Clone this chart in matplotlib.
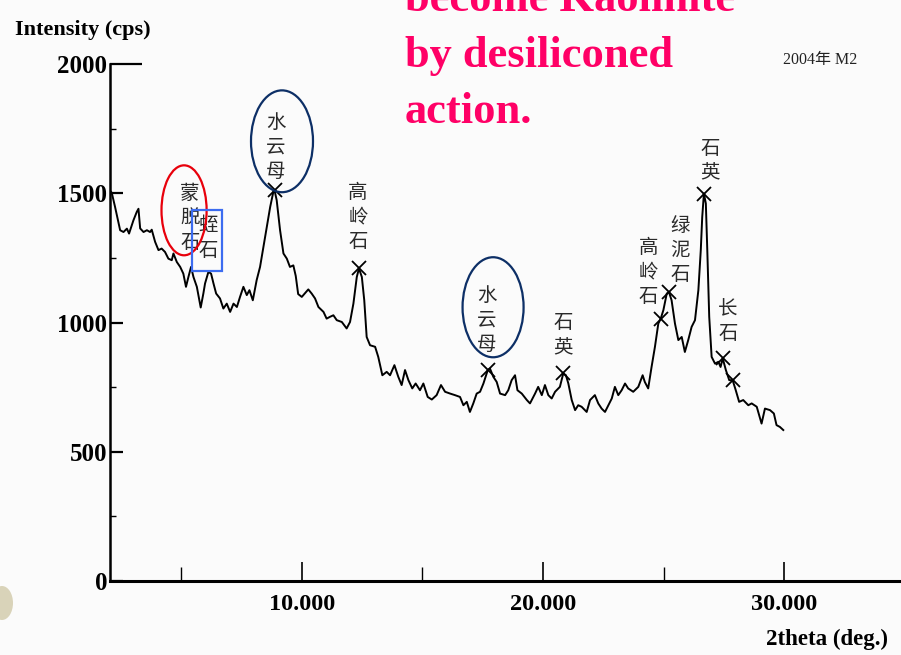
import matplotlib
matplotlib.use("Agg")
import matplotlib.pyplot as plt
from matplotlib.patches import Ellipse, Rectangle
from matplotlib.ticker import MultipleLocator

plt.rcParams["font.family"] = ["Liberation Serif", "Noto Sans CJK SC", "DejaVu Sans"]

# XRD scan, sample M2 (2004)
two_theta = [
    2.10, 2.13, 2.26, 2.47, 2.61, 2.75, 2.84, 3.02, 3.16, 3.23, 3.30, 3.44, 3.58,
    3.71, 3.78, 3.92, 4.06, 4.19, 4.33, 4.47, 4.61, 4.68, 4.82, 4.96, 5.09, 5.20,
    5.30, 5.41, 5.51, 5.65, 5.81, 5.92, 5.99, 6.13, 6.24, 6.34, 6.45, 6.61, 6.75,
    6.89, 7.03, 7.17, 7.31, 7.44, 7.58, 7.72, 7.83, 7.97, 8.13, 8.27, 8.41, 8.55,
    8.69, 8.82, 8.87, 8.96, 9.10, 9.24, 9.38, 9.51, 9.65, 9.75, 9.85, 10.00,
    10.27, 10.41, 10.55, 10.69, 10.90, 11.03, 11.17, 11.31, 11.45, 11.66, 11.86,
    12.00, 12.14, 12.28, 12.37, 12.49, 12.59, 12.69, 12.83, 13.04, 13.17, 13.34,
    13.52, 13.66, 13.84, 14.00, 14.14, 14.28, 14.42, 14.58, 14.72, 14.90, 15.04,
    15.22, 15.39, 15.59, 15.77, 15.94, 16.15, 16.35, 16.56, 16.70, 16.84, 16.97,
    17.11, 17.25, 17.39, 17.53, 17.71, 17.80, 17.94, 18.08, 18.22, 18.43, 18.56,
    18.70, 18.84, 18.94, 19.12, 19.33, 19.46, 19.67, 19.80, 19.95, 20.08, 20.22,
    20.36, 20.50, 20.70, 20.84, 20.95, 21.05, 21.19, 21.33, 21.46, 21.60, 21.81,
    21.95, 22.15, 22.29, 22.43, 22.57, 22.71, 22.85, 22.98, 23.12, 23.26, 23.40,
    23.53, 23.74, 23.95, 24.13, 24.22, 24.36, 24.50, 24.64, 24.78, 24.88, 24.99,
    25.13, 25.22, 25.33, 25.47, 25.61, 25.75, 25.88, 26.02, 26.16, 26.30, 26.44,
    26.54, 26.60, 26.67, 26.75, 26.81, 26.89, 26.99, 27.13, 27.27, 27.36, 27.45,
    27.58, 27.72, 27.86, 27.99, 28.13, 28.30, 28.51, 28.65, 28.86, 29.06, 29.20,
    29.41, 29.57, 29.68, 29.82, 29.96,
]
intensity = [
    1505, 1499, 1447, 1357, 1350, 1363, 1344, 1395, 1428, 1440, 1364, 1350, 1357,
    1350, 1359, 1312, 1280, 1286, 1273, 1247, 1241, 1267, 1234, 1215, 1189, 1138,
    1176, 1215, 1176, 1138, 1058, 1112, 1151, 1196, 1189, 1151, 1112, 1093, 1054,
    1073, 1041, 1073, 1060, 1099, 1138, 1106, 1125, 1086, 1164, 1215, 1292, 1370,
    1447, 1505, 1512, 1473, 1357, 1267, 1247, 1215, 1221, 1180, 1110, 1099,
    1128, 1112, 1093, 1060, 1041, 1015, 1022, 1028, 1009, 1002, 977,
    1002, 1073, 1176, 1209, 1176, 1086, 944, 912, 906, 867, 796,
    809, 796, 835, 790, 758, 816, 777, 745, 764, 738, 764,
    712, 702, 719, 758, 732, 725, 719, 712, 680, 693, 654,
    687, 725, 732, 764, 816, 822, 790, 770, 725, 719, 738,
    777, 796, 738, 725, 700, 687, 725, 751, 719, 758, 719,
    706, 732, 751, 803, 796, 764, 700, 661, 680, 674, 654,
    700, 719, 687, 667, 654, 680, 706, 751, 719, 738, 764,
    745, 732, 751, 796, 770, 745, 828, 906, 996, 1015, 1048,
    1112, 1118, 1086, 996, 932, 944, 886, 932, 983, 1009, 1125,
    1280, 1408, 1499, 1460, 1280, 1022, 867, 841, 848, 828, 861,
    816, 777, 777, 738, 693, 700, 680, 687, 674, 609, 667,
    661, 648, 603, 596, 584,
]

# identified reflections (x marks)
peak_theta = [8.87, 12.37, 17.71, 20.84, 24.88, 25.22, 26.67, 27.45, 27.86]
peak_int = [1512, 1209, 816, 803, 1015, 1118, 1499, 861, 777]

# mineral names, written top to bottom
mineral_labels = ["蒙脱石", "蛭石", "水云母", "高岭石", "水云母", "石英",
                  "高岭石", "绿泥石", "石英", "长石"]
label_theta = [5.37, 6.12, 8.93, 12.33, 17.68, 20.83, 24.37, 25.68, 26.92, 27.67]
label_int = [1403, 1326, 1678, 1407, 1009, 951, 1194, 1279, 1627, 1005]

W, H = 901, 655
fig = plt.figure(figsize=(W / 100, H / 100), dpi=100)
fig.patch.set_facecolor("#fbfbfb")

ax = fig.add_axes([110 / W, 74 / H, 791 / W, 517 / H])
ax.set_facecolor("#fbfbfb")
ax.plot(two_theta, intensity, color="black", lw=1.4, zorder=3)
ax.plot(peak_theta, peak_int, "x", color="black", ms=10, mew=1.3, zorder=4)

for txt, tx, ty in zip(mineral_labels, label_theta, label_int):
    ax.text(tx, ty, "\n".join(txt), ha="center", va="center", fontsize=14,
            linespacing=1.22, color="#2a2a2a", family=["Noto Sans CJK SC"], zorder=5)

# highlight rings
ax.add_patch(Ellipse((5.12, 1434), 1.87, 348, fill=False, ec="#e8000b", lw=1.6, zorder=6))
ax.add_patch(Rectangle((5.45, 1198), 1.25, 236, fill=False, ec="#3c6cf0", lw=1.6, zorder=6))
ax.add_patch(Ellipse((9.18, 1701), 2.57, 394, fill=False, ec="#0d2f66", lw=1.6, zorder=6))
ax.add_patch(Ellipse((17.93, 1059), 2.53, 387, fill=False, ec="#0d2f66", lw=1.6, zorder=6))

ax.set_xlim(2.05, 34.84)
ax.set_ylim(0, 2000)
for s in ("top", "right"):
    ax.spines[s].set_visible(False)
ax.spines["left"].set_linewidth(1.8)
ax.spines["bottom"].set_linewidth(2.2)

ax.set_yticks([0, 500, 1000, 1500, 2000])
ax.yaxis.set_minor_locator(MultipleLocator(250))
ax.set_xticks([10, 20, 30])
ax.set_xticklabels(["10.000", "20.000", "30.000"])
ax.xaxis.set_minor_locator(MultipleLocator(5))
ax.tick_params(axis="y", which="major", direction="in", length=9, width=1.6, pad=2,
               labelsize=18)
ax.tick_params(axis="y", which="minor", direction="in", length=4, width=1.0)
ax.tick_params(axis="x", which="major", direction="in", length=14, width=1.2, pad=9,
               labelsize=17.5)
ax.tick_params(axis="x", which="minor", direction="in", length=10, width=1.0)
for lab in ax.get_xticklabels() + ax.get_yticklabels():
    lab.set_fontweight("bold")
# the top tick runs further into the plot
ax.yaxis.get_major_ticks()[-1].tick1line.set_markersize(23)

fig.text(15 / W, 1 - 35 / H, "Intensity (cps)", fontsize=16, fontweight="bold",
         va="baseline")
fig.text(888 / W, 1 - 645 / H, "2theta (deg.)", fontsize=16.5, fontweight="bold",
         ha="right", va="baseline")
fig.text(783 / W, 1 - 60 / H, "2004年 M2", fontsize=11.5, va="center", color="#222222")

pink = "#ff0066"
for line, py in zip(["become Kaolinite", "by desiliconed", "action."], [11, 67, 123]):
    fig.text(405 / W, 1 - py / H, line, fontsize=32, fontweight="bold", color=pink,
             va="baseline")

# corner smudge
fig.patches.append(Ellipse((2 / W, 1 - 603 / H), 22 / W, 34 / H, transform=fig.transFigure,
                           fc="#b8ac78", ec="none", alpha=0.5))

fig.savefig("out.png", dpi=100, facecolor=fig.get_facecolor())
